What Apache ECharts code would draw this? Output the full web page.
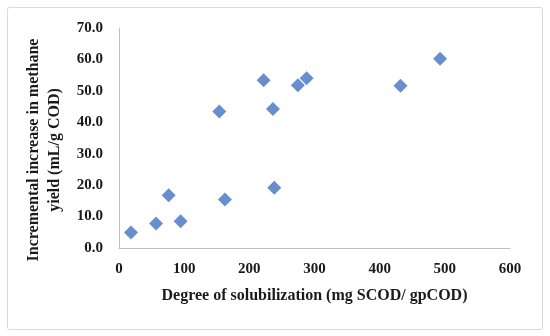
<!DOCTYPE html>
<html><head><meta charset="utf-8">
<script src="https://cdn.jsdelivr.net/npm/echarts@6/dist/echarts.min.js"></script>
<style>html,body{margin:0;padding:0;background:#fff}#c{width:550px;height:336px}</style>
</head><body><div id="c"></div>
<script>
const xValues = [18.4, 56.9, 76.2, 94.6, 153.9, 162.6, 221.9, 236.2, 238.2, 274.5, 287.9, 432.0, 492.7];
const yValues = [4.9, 7.8, 16.8, 8.5, 43.4, 15.4, 53.4, 44.2, 19.2, 51.8, 54.0, 51.6, 60.2];
const xTitle = 'Degree of solubilization (mg SCOD/ gpCOD)';
const yTitle = 'Incremental increase in methane\nyield (mL/g COD)';

const font = '"Liberation Serif", "DejaVu Serif", serif';
const chart = echarts.init(document.getElementById('c'), null, {renderer: 'canvas'});
chart.setOption({
  animation: false,
  backgroundColor: '#fff',
  graphic: [{
    type: 'rect', shape: {x: 7.5, y: 7.5, width: 535, height: 322, r: 2},
    style: {fill: 'none', stroke: '#d9d9d9', lineWidth: 1}, z: -1
  }],
  grid: {left: 119, right: 40, top: 28, bottom: 88, containLabel: false},
  xAxis: {
    type: 'value', min: 0, max: 600, interval: 100,
    name: xTitle, nameLocation: 'middle', nameGap: 40,
    nameTextStyle: {fontFamily: font, fontWeight: 'bold', fontSize: 16, color: '#1a1a1a'},
    axisLine: {show: true, lineStyle: {color: '#bfbfbf', width: 1}},
    axisTick: {show: false},
    splitLine: {show: false},
    axisLabel: {fontFamily: font, fontWeight: 'bold', fontSize: 15, color: '#1a1a1a', margin: 14}
  },
  yAxis: {
    type: 'value', min: 0, max: 70, interval: 10,
    name: yTitle, nameLocation: 'middle', nameGap: 54,
    nameTextStyle: {fontFamily: font, fontWeight: 'bold', fontSize: 16, color: '#1a1a1a', lineHeight: 21,
      padding: [0, 24, 0, 0]},
    axisLine: {show: true, lineStyle: {color: '#bfbfbf', width: 1}},
    axisTick: {show: false},
    splitLine: {show: false},
    axisLabel: {fontFamily: font, fontWeight: 'bold', fontSize: 15, color: '#1a1a1a', margin: 16,
      formatter: v => v.toFixed(1)}
  },
  series: [{
    type: 'scatter',
    symbol: 'diamond',
    symbolSize: 14,
    itemStyle: {color: '#4472C4'},
    data: xValues.map((x, i) => [x, yValues[i]])
  }]
});
</script></body></html>
